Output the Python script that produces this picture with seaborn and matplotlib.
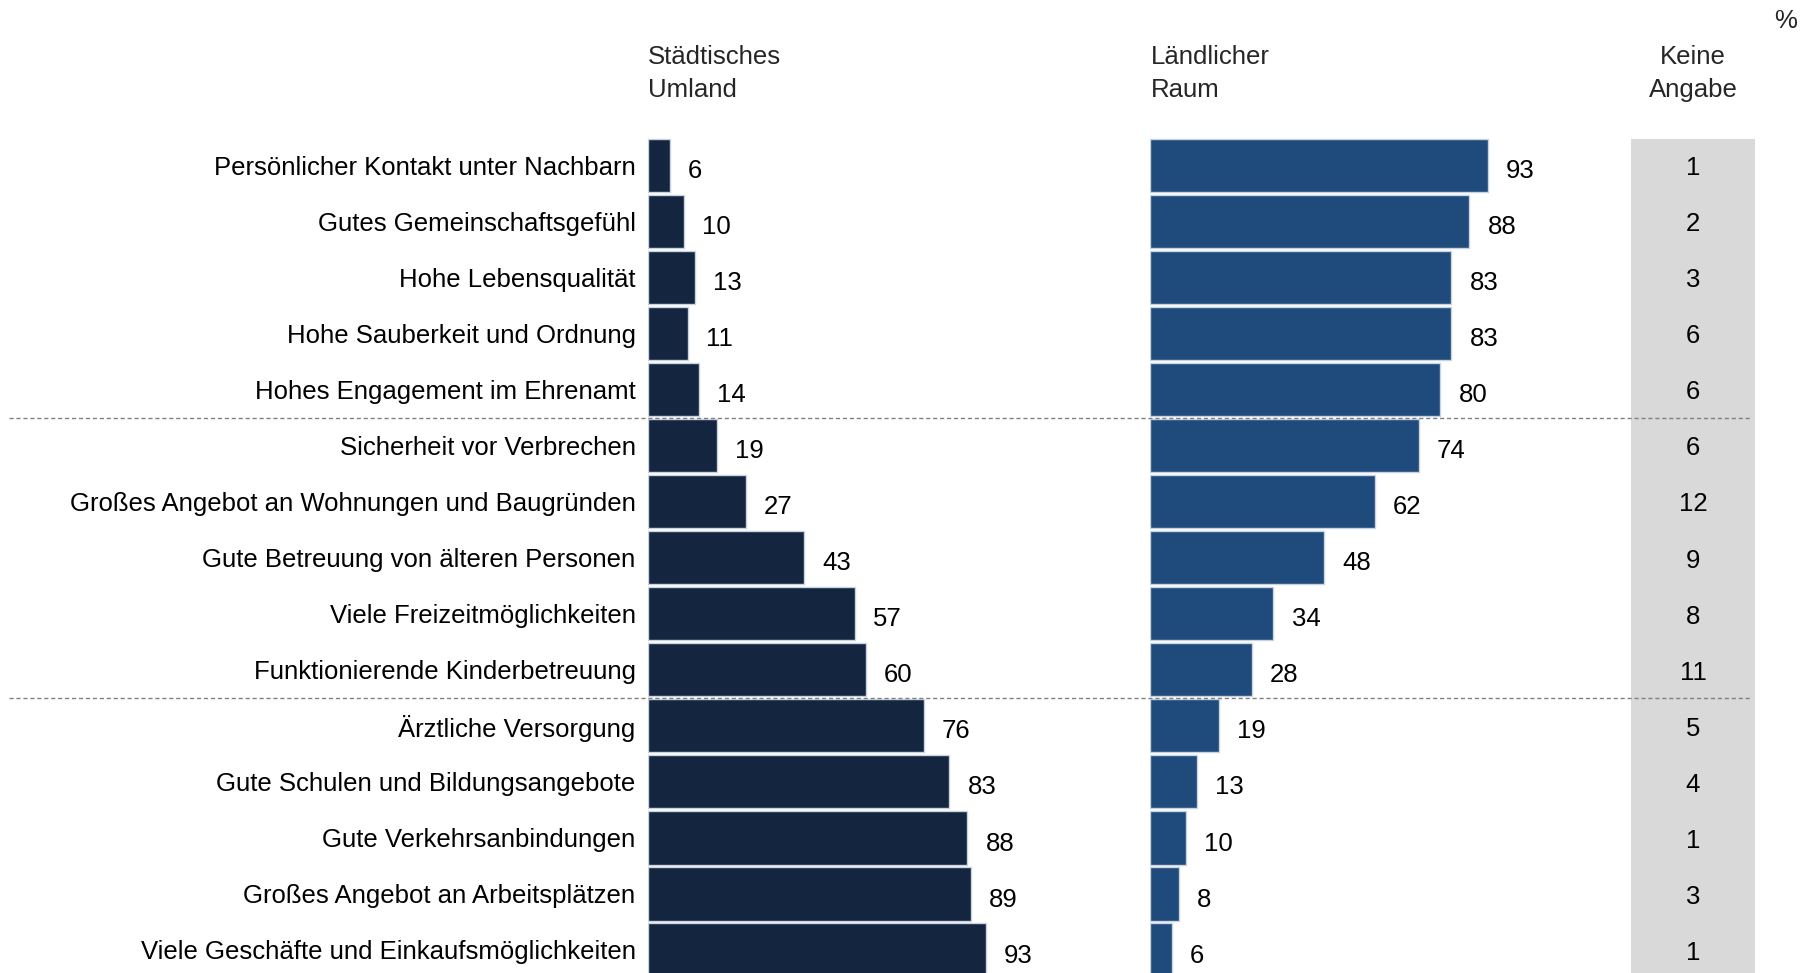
import matplotlib
matplotlib.use("Agg")
import matplotlib.pyplot as plt
import seaborn as sns
import pandas as pd

categories = [
    "Persönlicher Kontakt unter Nachbarn",
    "Gutes Gemeinschaftsgefühl",
    "Hohe Lebensqualität",
    "Hohe Sauberkeit und Ordnung",
    "Hohes Engagement im Ehrenamt",
    "Sicherheit vor Verbrechen",
    "Großes Angebot an Wohnungen und Baugründen",
    "Gute Betreuung von älteren Personen",
    "Viele Freizeitmöglichkeiten",
    "Funktionierende Kinderbetreuung",
    "Ärztliche Versorgung",
    "Gute Schulen und Bildungsangebote",
    "Gute Verkehrsanbindungen",
    "Großes Angebot an Arbeitsplätzen",
    "Viele Geschäfte und Einkaufsmöglichkeiten",
]
staedtisch = [6, 10, 13, 11, 14, 19, 27, 43, 57, 60, 76, 83, 88, 89, 93]
laendlich = [93, 88, 83, 83, 80, 74, 62, 48, 34, 28, 19, 13, 10, 8, 6]
keine_angabe = [1, 2, 3, 6, 6, 6, 12, 9, 8, 11, 5, 4, 1, 3, 1]

header_left = "Städtisches\nUmland"
header_mid = "Ländlicher\nRaum"
header_right = "Keine\nAngabe"
unit = "%"

sns.set_theme(style="white")
plt.rcParams["font.family"] = ["Liberation Sans", "DejaVu Sans"]
FS = 18.5

df = pd.DataFrame({"cat": categories, "st": staedtisch, "la": laendlich, "ka": keine_angabe})

W, H = 1801, 973
fig = plt.figure(figsize=(W / 100, H / 100), dpi=100)

top_px = 137.4
ax_h = 1 - top_px / H
n = len(categories)
ylim = (n - 0.5 - 5 / 56.07, -0.5)

ax1 = fig.add_axes([648 / W, 0.0, 363 / W, ax_h])
ax2 = fig.add_axes([1150 / W, 0.0, 363 / W, ax_h])
ax3 = fig.add_axes([1631 / W, 0.0, 124 / W, 1 - 139 / H])

sns.barplot(data=df, x="st", y="cat", ax=ax1, color="#13253f", width=0.95,
            edgecolor="#c9d3e0", linewidth=1.0, saturation=1)
sns.barplot(data=df, x="la", y="cat", ax=ax2, color="#1f4a7c", width=0.95,
            edgecolor="#c9d3e0", linewidth=1.0, saturation=1)

for ax, vals in ((ax1, staedtisch), (ax2, laendlich)):
    ax.set_facecolor("none")
    ax.set_xlim(0, 100)
    ax.set_ylim(*ylim)
    ax.set_xlabel("")
    ax.set_ylabel("")
    ax.set_xticks([])
    for s in ax.spines.values():
        s.set_visible(False)
    for i, v in enumerate(vals):
        ax.text(v + 5, i + 0.1, str(v), ha="left", va="center", fontsize=FS, color="black")

ax1.tick_params(axis="y", length=0, pad=9, labelsize=FS, labelcolor="black")
ax2.set_yticks([])

# gray "Keine Angabe" column
ax3.set_facecolor("#d9d9d9")
ax3.set_xlim(0, 1)
ax3.set_ylim(n - 0.5 - 5 / 56.07, -0.5 + (139 - 137.4) / 56.07)
ax3.set_xticks([])
ax3.set_yticks([])
for s in ax3.spines.values():
    s.set_visible(False)
for i, v in enumerate(keine_angabe):
    ax3.text(0.5, i + 0.05, str(v), ha="center", va="center", fontsize=FS, color="black")

# dashed separators (drawn on the top-most axes so they cross all panels)
for yv in (4.5, 9.5):
    ax3.axhline(yv, xmin=(9 - 1631) / 124, xmax=(1752 - 1631) / 124, color="#808080",
                linestyle=(0, (3, 2)), linewidth=1.0, clip_on=False, zorder=5)

# headers
hy = 1 - 73.5 / H
fig.text(648 / W, hy, header_left, ha="left", va="center", fontsize=FS, linespacing=1.5)
fig.text(1151 / W, hy, header_mid, ha="left", va="center", fontsize=FS, linespacing=1.5)
fig.text(1693 / W, hy, header_right, ha="center", va="center", fontsize=FS, linespacing=1.5)
fig.text(1786 / W, 1 - 21 / H, unit, ha="center", va="center", fontsize=FS)

fig.savefig("out.png", dpi=100)
